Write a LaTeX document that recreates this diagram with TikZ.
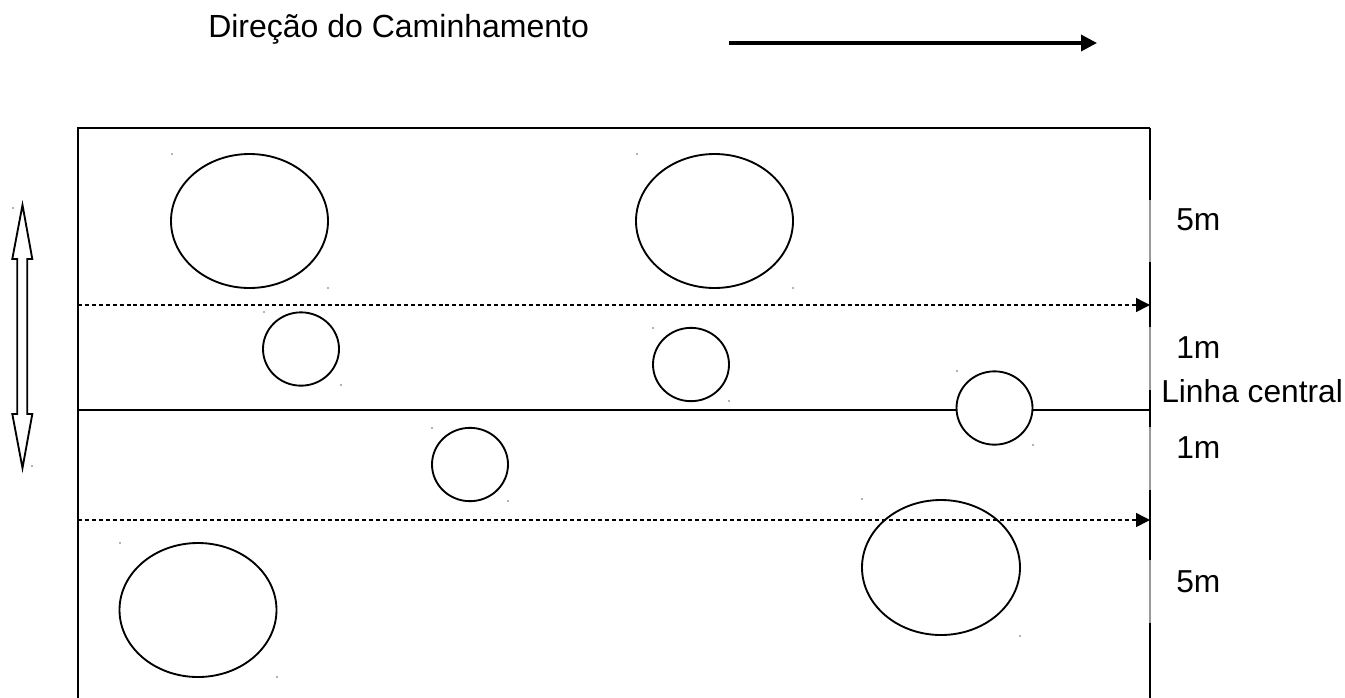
\documentclass[tikz,border=0pt]{standalone}
\usepackage{fontspec}
\setmainfont{Liberation Sans}
\usetikzlibrary{shapes.geometric,arrows.meta}
\tikzset{
  edge/.style={line width=1.5pt, black},
  thinedge/.style={line width=0.8pt, black!40},
  bigtree/.style={ellipse, draw, line width=1.4pt, inner sep=0pt, minimum width=117.75pt, minimum height=100.5pt},
  smalltree/.style={ellipse, draw, line width=1.4pt, inner sep=0pt, minimum width=57pt, minimum height=55pt},
  walk/.style={line width=1.1pt, dash pattern=on 3pt off 2.2pt, -{Triangle[length=10.5pt,width=10.5pt]}},
  lbl/.style={inner sep=0pt, anchor=base west, font=\fontsize{23.8pt}{28pt}\selectfont},
  speck/.style={fill=black!60, draw=none, circle, inner sep=0pt, minimum size=1.2pt}
}
\begin{document}
\begin{tikzpicture}[x=0.75pt,y=-0.75pt]
\useasboundingbox (0,0) rectangle (1345,697);
\clip (0,0) rectangle (1345,697);
\node[lbl, font=\fontsize{24pt}{28pt}\selectfont] (title) at (208,37) {Direção do Caminhamento};
\coordinate (dirA) at (729,43);
\coordinate (dirB) at (1097,43);
\draw[line width=2.6pt, -{Triangle[length=12pt,width=12pt]}] (dirA) -- (dirB);
\coordinate (tl) at (78,128);
\coordinate (tr) at (1150,128);
\coordinate (bl) at (78,710);
\coordinate (br) at (1150,710);
\draw[edge] (bl) -- (tl) -- (tr);
\draw[thinedge] (tr) -- (br);
\draw[edge] (1150,128) -- (1150,200);
\draw[edge] (1150,262) -- (1150,327);
\draw[edge] (1150,390) -- (1150,427);
\draw[edge] (1150,490) -- (1150,560);
\draw[edge] (1150,623) -- (1150,710);
\coordinate (cL) at (78,410);
\coordinate (cR) at (1150,410);
\draw[edge] (cL) -- (cR);
\coordinate (w1a) at (78,305);
\coordinate (w1b) at (1150,305);
\coordinate (w2a) at (78,520);
\coordinate (w2b) at (1150,520);
\draw[walk] (w1a) -- (w1b);
\draw[walk] (w2a) -- (w2b);
\node[bigtree] (e1) at (249.5,221) {};
\node[bigtree] (e2) at (714.5,221) {};
\node[smalltree] (e3) at (301,349) {};
\node[smalltree] (e4) at (691,364.5) {};
\node[smalltree, fill=white] (e5) at (994.5,408) {};
\node[smalltree] (e6) at (470,464.5) {};
\node[bigtree, minimum width=118.5pt, minimum height=101.25pt] (e7) at (941,567.5) {};
\node[bigtree] (e8) at (198,610) {};
\foreach \p/\q [count=\i] in {172/154, 328/288, 637/154, 793/288, 264/312, 341/385, 653/328, 729/401, 957/371, 1033/445, 432/428, 508/501, 862/499, 1020/636, 120/543, 277/677, 13/208, 32/466}
  \node[speck] (s\i) at (\p,\q) {};
\draw[line width=1.4pt, fill=white] (22.5,205) -- (32.3,259) -- (27.3,259) -- (27.3,414) -- (32.3,414) -- (22.5,468) -- (12.3,414) -- (17.3,414) -- (17.3,259) -- (12.3,259) -- cycle;
\node[lbl] (l1) at (1176,230) {5m};
\node[lbl] (l2) at (1176,358) {1m};
\node[lbl] (l3) at (1161,402) {Linha central};
\node[lbl] (l4) at (1176,458) {1m};
\node[lbl] (l5) at (1176,592) {5m};
\end{tikzpicture}
\end{document}
